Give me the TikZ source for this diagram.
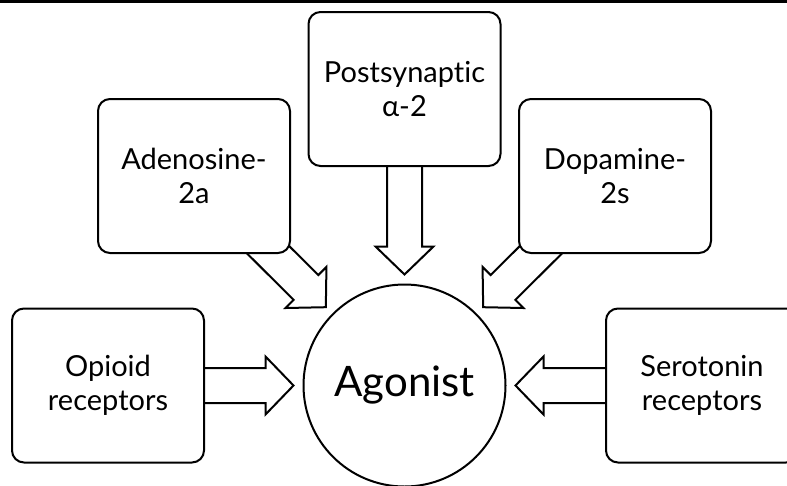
\documentclass[tikz,border=0pt]{standalone}
\usepackage{fontspec}
\setmainfont{Lato}[Ligatures={NoCommon}]
\usetikzlibrary{calc,backgrounds}

\tikzset{
  recbox/.style={draw, line width=2pt, rounded corners=12pt, fill=white,
    minimum width=192pt, minimum height=154pt, inner sep=0pt, align=center,
    font=\fontsize{29}{34}\selectfont},
  agobox/.style={circle, draw, line width=2pt, fill=white, minimum size=202pt,
    inner sep=0pt, font=\fontsize{42}{50}\selectfont},
  fatarrow/.style={draw, line width=2pt, fill=white, line join=miter}
}

% block arrow from a box towards the agonist circle
\newcommand{\receptorarrow}[2]{%
  \path ($(#2)!111pt!(#1)$) coordinate (tip)
        ($(tip)!28pt!(#1)$) coordinate (base);
  \draw[fatarrow] ($(#1)!17.5pt!90:(tip)$) -- ($(base)!17.5pt!-90:(#1)$)
    -- ($(base)!29pt!-90:(#1)$) -- (tip) -- ($(base)!29pt!90:(#1)$)
    -- ($(base)!17.5pt!90:(#1)$) -- ($(#1)!17.5pt!-90:(tip)$) -- cycle;
}

\begin{document}
\begin{tikzpicture}[x=1pt, y=1pt]
      \useasboundingbox (0,0) rectangle (787,-485);
      \draw[line width=3pt] (0,-1.5) -- (787,-1.5);
      \node[agobox] (agonist) at (404.5,-385.5) {Agonist};
      \node[recbox] (post) at (404.5,-89) {Postsynaptic\\α-2};
      \node[recbox] (aden) at (194,-176) {Adenosine-\\2a};
      \node[recbox] (dopa) at (615,-176) {Dopamine-\\2s};
      \node[recbox] (opio) at (108,-385.5) {Opioid\\receptors};
      \node[recbox] (sero) at (702,-385.5) {Serotonin\\receptors};
      \begin{scope}[on background layer]
        \receptorarrow{post}{agonist}
        \receptorarrow{aden}{agonist}
        \receptorarrow{dopa}{agonist}
        \receptorarrow{opio}{agonist}
        \receptorarrow{sero}{agonist}
      \end{scope}
    \end{tikzpicture}
\end{document}
